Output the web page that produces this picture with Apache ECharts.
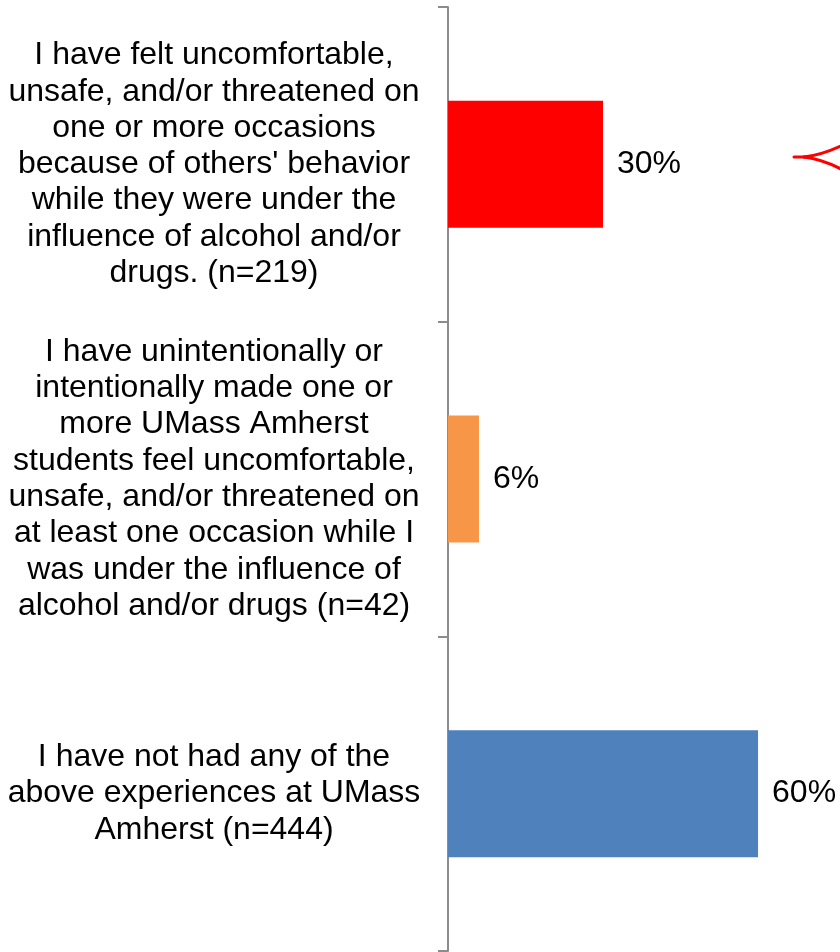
<!DOCTYPE html>
<html>
<head>
<meta charset="utf-8">
<script src="https://cdn.jsdelivr.net/npm/echarts@6/dist/echarts.min.js"></script>
<style>
  html, body { margin: 0; padding: 0; background: #ffffff; }
  #chart { width: 840px; height: 952px; }
</style>
</head>
<body>
<div id="chart"></div>
<script>
// Survey responses: share of respondents per statement
const categories = [
  "I have felt uncomfortable,\nunsafe, and/or threatened on\none or more occasions\nbecause of others' behavior\nwhile they were under the\ninfluence of alcohol and/or\ndrugs. (n=219)",
  "I have unintentionally or\nintentionally made one or\nmore UMass Amherst\nstudents feel uncomfortable,\nunsafe, and/or threatened on\nat least one occasion while I\nwas under the influence of\nalcohol and/or drugs (n=42)",
  "I have not had any of the\nabove experiences at UMass\nAmherst (n=444)"
];
const percentValues = [30, 6, 60];
const barColors = ['#FF0000', '#F79646', '#4F81BD'];

const FONT = '"Liberation Sans", Arial, sans-serif';

const chart = echarts.init(document.getElementById('chart'), null, { renderer: 'canvas' });

const arrowStyle = { fill: 'none', stroke: '#FF0000', lineWidth: 3, lineCap: 'round' };

chart.setOption({
  backgroundColor: '#ffffff',
  animation: false,
  grid: { left: 448, right: 6, top: 7, bottom: 1, containLabel: false },
  xAxis: {
    type: 'value',
    min: 0,
    max: 74.7,
    show: false
  },
  yAxis: {
    type: 'category',
    data: categories,
    inverse: true,
    axisLine: { show: true, lineStyle: { color: '#8c8c8c', width: 2 } },
    axisTick: { show: true, length: 10, lineStyle: { color: '#8c8c8c', width: 2 } },
    axisLabel: {
      margin: 234,
      align: 'center',
      color: '#000000',
      fontFamily: FONT,
      fontSize: 32,
      lineHeight: 36.3
    },
    splitLine: { show: false }
  },
  series: [{
    type: 'bar',
    data: percentValues.map((v, i) => ({ value: v, itemStyle: { color: barColors[i] } })),
    barWidth: 127,
    label: {
      show: true,
      position: 'right',
      distance: 14,
      color: '#000000',
      fontFamily: FONT,
      fontSize: 32,
      formatter: p => p.value + '%'
    }
  }],
  // Red callout arrowhead at the right edge, pointing at the first bar
  graphic: [
    { type: 'line', shape: { x1: 794, y1: 157, x2: 810, y2: 157 }, style: arrowStyle },
    { type: 'bezierCurve', shape: { x1: 804, y1: 157, cpx1: 822, cpy1: 155, x2: 843, y2: 145 }, style: arrowStyle },
    { type: 'bezierCurve', shape: { x1: 804, y1: 157, cpx1: 822, cpy1: 159, x2: 843, y2: 170 }, style: arrowStyle }
  ]
});
</script>
</body>
</html>
